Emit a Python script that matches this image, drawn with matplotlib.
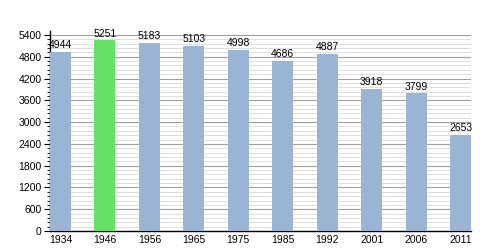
import matplotlib
matplotlib.use("Agg")
import matplotlib.pyplot as plt
from matplotlib.ticker import MultipleLocator

years = ["1934", "1946", "1956", "1965", "1975", "1985", "1992", "2001", "2006", "2011"]
population = [4944, 5251, 5183, 5103, 4998, 4686, 4887, 3918, 3799, 2653]
highlight = "1946"

plt.rcParams['font.family'] = ['Liberation Sans', 'DejaVu Sans']
fig = plt.figure(figsize=(5, 2.5), dpi=100)
ax = fig.add_axes([0.1, 0.076, 0.842, 0.80])

colors = ['#66e066' if y == highlight else '#9ab4d3' for y in years]
x = list(range(len(years)))
bars = ax.bar(x, population, width=0.47, color=colors, zorder=3)
for xi, v in zip(x, population):
    ax.text(xi, v + 40, str(v), ha='center', va='bottom', fontsize=7.5, zorder=4)

ax.set_xlim(-0.235, 9.235)
ax.set_ylim(0, 5510)
ax.yaxis.set_major_locator(MultipleLocator(600))
ax.yaxis.set_minor_locator(MultipleLocator(120))
ax.grid(which='major', axis='y', color='#a0a0a0', linewidth=0.8, zorder=0)
ax.grid(which='minor', axis='y', color='#dedede', linewidth=0.7, zorder=0)
ax.set_xticks(x)
ax.set_xticklabels(years)
ax.tick_params(axis='x', length=0, labelsize=7.5, pad=3)
ax.tick_params(axis='y', which='major', length=4, width=0.8, labelsize=7.5, pad=2, direction='out')
ax.tick_params(axis='y', which='minor', length=2, width=0.6, direction='out')
for s in ['top', 'right']:
    ax.spines[s].set_visible(False)
ax.spines['left'].set_linewidth(1)
ax.spines['bottom'].set_linewidth(1)
fig.savefig("out.png", dpi=100)
